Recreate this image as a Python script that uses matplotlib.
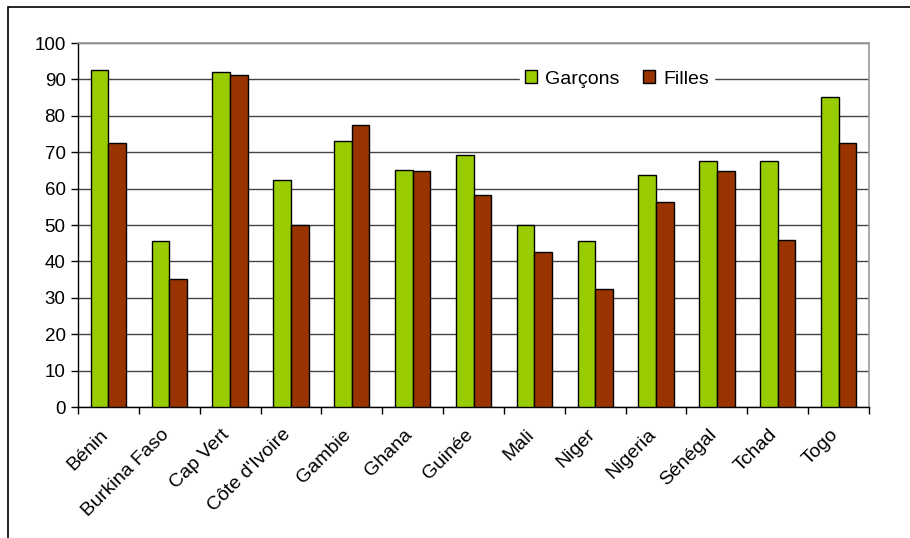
import matplotlib
matplotlib.use("Agg")
import matplotlib.pyplot as plt
from matplotlib.patches import Rectangle, Patch
from matplotlib.transforms import ScaledTranslation
import numpy as np

plt.rcParams['font.family'] = ['Liberation Sans', 'DejaVu Sans']

pays = ["Bénin", "Burkina Faso", "Cap Vert", "Côte d'Ivoire", "Gambie", "Ghana",
        "Guinée", "Mali", "Niger", "Nigeria", "Sénégal", "Tchad", "Togo"]
garcons = [92.6, 45.6, 92.1, 62.3, 73.0, 65.1, 69.1, 50.0, 45.6, 63.7, 67.6, 67.6, 85.1]
filles = [72.5, 35.3, 91.1, 50.0, 77.4, 64.8, 58.3, 42.5, 32.4, 56.2, 64.8, 45.9, 72.5]
yticks = [0, 10, 20, 30, 40, 50, 60, 70, 80, 90, 100]

vert = "#99cc00"
brique = "#993300"
fs = 13.5

fig = plt.figure(figsize=(9.10, 5.38), dpi=100)
fig.patch.set_facecolor("white")
# outer frame (right/bottom edges fall outside the canvas)
fig.patches.append(Rectangle((8 / 910, -0.1), 1.2, 1.1 - 7 / 538,
                             transform=fig.transFigure, fill=False,
                             edgecolor="black", linewidth=1.2))

ax = fig.add_axes([78 / 910, 1 - 407 / 538, (869 - 78) / 910, (407 - 43) / 538])

x = np.arange(len(pays))
w = 0.29
ax.bar(x - w / 2, garcons, w, color=vert, edgecolor="black", linewidth=1.0, zorder=3)
ax.bar(x + w / 2, filles, w, color=brique, edgecolor="black", linewidth=1.0, zorder=3)

ax.set_xlim(-0.5, len(pays) - 0.5)
ax.set_ylim(0, 100)
ax.set_yticks(yticks)
ax.set_yticklabels([str(v) for v in yticks], fontsize=fs)
ax.yaxis.grid(True, color="#444444", linewidth=1.0, zorder=0)
ax.set_axisbelow(True)

ax.set_xticks(x)
ax.set_xticklabels(pays, rotation=45, ha="right", va="top",
                   rotation_mode="anchor", fontsize=14)
ax.tick_params(axis="x", length=0, pad=0)
shift = ScaledTranslation(-9 / 100, -19 / 100, fig.dpi_scale_trans)
for lab in ax.get_xticklabels():
    lab.set_transform(lab.get_transform() + shift)
ax.set_xticks(np.arange(len(pays) + 1) - 0.5, minor=True)
ax.tick_params(axis="x", which="minor", length=5, width=1, color="black")
ax.tick_params(axis="y", length=5, width=1, color="black", pad=4)

for side in ("top", "right"):
    ax.spines[side].set_color("#999999")
    ax.spines[side].set_linewidth(1.2)
for side in ("left", "bottom"):
    ax.spines[side].set_color("black")
    ax.spines[side].set_linewidth(1.0)

handles = [Patch(facecolor=vert, edgecolor="black", linewidth=1.0, label="Garçons"),
           Patch(facecolor=brique, edgecolor="black", linewidth=1.0, label="Filles")]
leg = ax.legend(handles=handles, loc="center", bbox_to_anchor=(617 / 910, 1 - 79 / 538),
                bbox_transform=fig.transFigure, ncol=2, frameon=True, fontsize=14,
                handlelength=0.6, handleheight=0.6, handletextpad=0.45,
                columnspacing=1.2, borderpad=0.25, fancybox=False)
leg.get_frame().set_facecolor("white")
leg.get_frame().set_edgecolor("white")
leg.get_frame().set_alpha(1.0)
leg.set_zorder(5)

fig.savefig("out.png", dpi=100)
